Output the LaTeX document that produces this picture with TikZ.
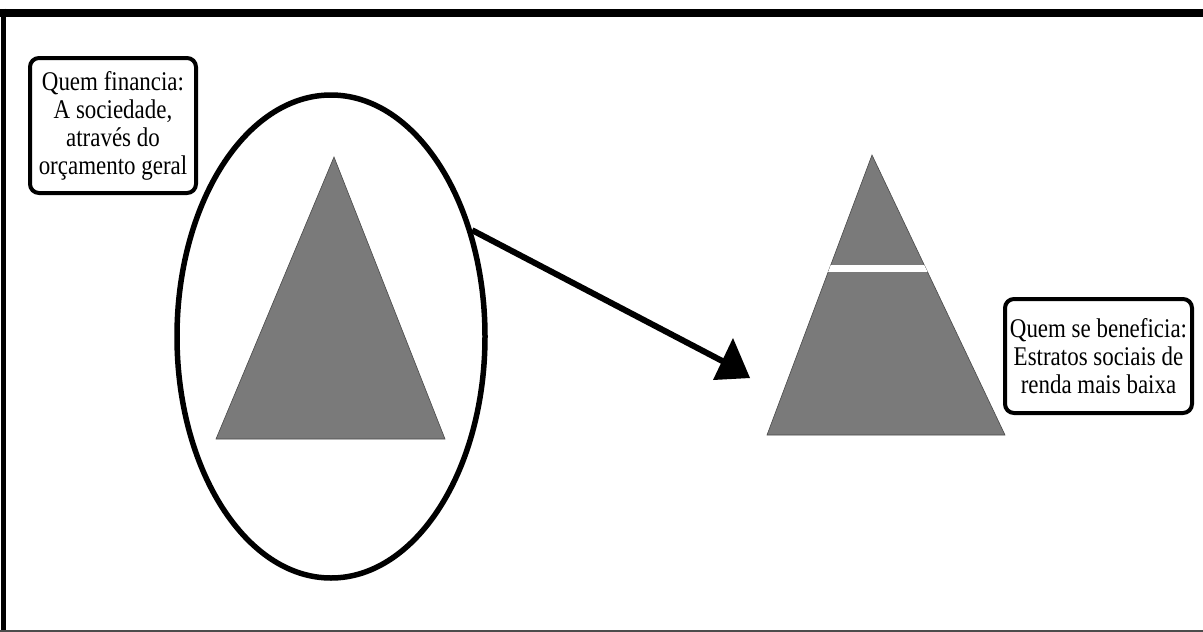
\documentclass[tikz,border=0pt]{standalone}
\usepackage{fontspec}
\usepackage{tikz}
\usetikzlibrary{shapes.geometric}
\newfontfamily\boxfont[FakeStretch=0.85]{Liberation Serif}
\definecolor{pyrgray}{RGB}{122,122,122}

\begin{document}
\begin{tikzpicture}[x=1pt, y=-1pt,
    caixa/.style = {draw, fill=white, line width=4pt, rounded corners=9pt, align=center,
                    inner sep=0pt, font=\boxfont\fontsize{27}{28}\selectfont},
    piramide/.style = {fill=pyrgray, draw=pyrgray!60!black, line width=0.6pt}]
                \useasboundingbox (0,0) rectangle (1203,632);
                \fill[white] (0,0) rectangle (1203,632);
                % moldura
                \draw[line width=8pt] (0,12.5) -- (1203,12.5);
                \draw[line width=5pt] (3,8.5) -- (3,632);
                \draw[gray!60!black, line width=2pt] (0,631) -- (1203,631);
                \node[ellipse, draw, line width=5.5pt, minimum width=308pt, minimum height=483pt, inner sep=0pt] (elipse) at (331,336.5) {};
                \foreach \ax/\ay/\bl/\br/\by in {334/157/216/445/439, 872/155/767/1005/435}
                    \fill[piramide] (\ax,\ay) -- (\bl,\by) -- (\br,\by) -- cycle;
                \begin{scope}
                    \clip (872,155) -- (767,435) -- (1005,435) -- cycle;
                    \fill[white] (760,265) rectangle (1010,272);
                \end{scope}
                \coordinate (ponta) at (728,364);
                \draw[line width=6pt] (elipse.37) -- (ponta);
                \fill[shift={(ponta)}] (5,-26) -- (-15,16) -- (22,14) -- cycle;
                \node[caixa, minimum width=166pt, minimum height=135pt] (financia) at (113,125.5)
                    {Quem financia:\\A sociedade,\\através do\\orçamento geral};
                \node[caixa, minimum width=187pt, minimum height=114pt] (beneficia) at (1098.5,356)
                    {Quem se beneficia:\\Estratos sociais de\\renda mais baixa};
            \end{tikzpicture}
\end{document}
